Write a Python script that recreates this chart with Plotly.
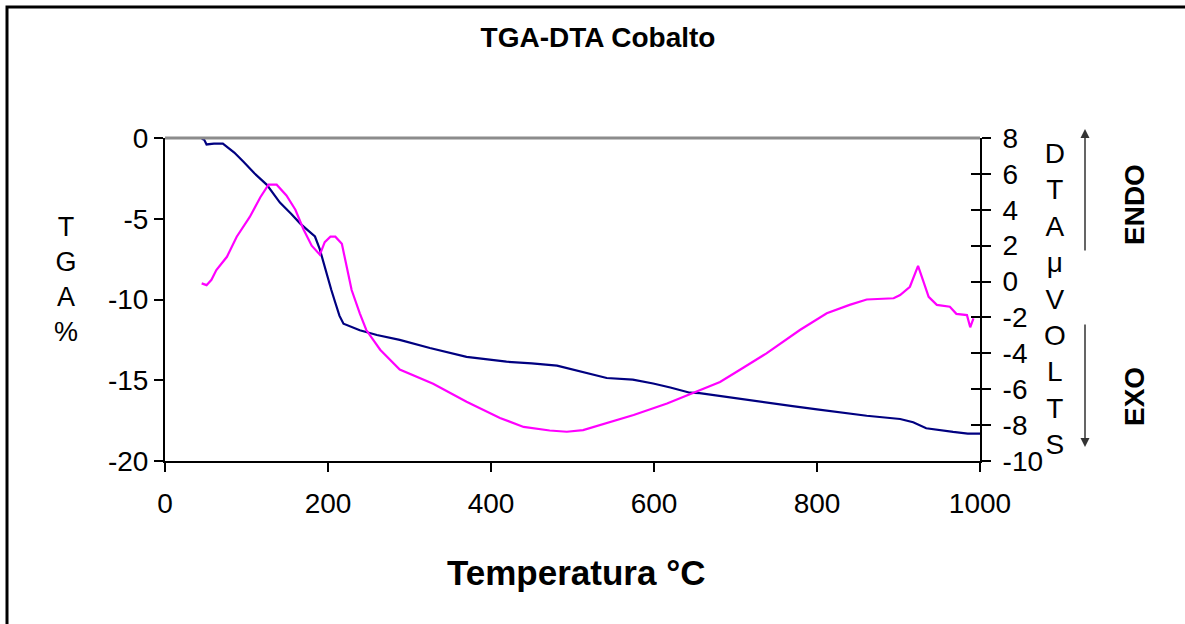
import plotly.graph_objects as go

# ---- data ----
tga_temp = [45, 48, 51, 60, 71, 85, 96, 110, 125, 141, 155, 166, 175, 184, 190, 198, 204, 209, 214,
            219, 228, 239, 260, 288, 325, 370, 419, 450, 481, 505, 542, 574, 599, 620, 644, 656,
            697, 738, 770, 800, 830, 861, 902, 918, 934, 950, 967, 985, 1000]
tga_pct = [-0.05, -0.1, -0.4, -0.35, -0.35, -0.9, -1.46, -2.2, -2.9, -4.0, -4.7, -5.3, -5.7, -6.1,
           -6.9, -8.4, -9.4, -10.2, -11.0, -11.5, -11.7, -11.9, -12.2, -12.5, -13.0, -13.55, -13.85,
           -13.95, -14.1, -14.4, -14.86, -14.96, -15.2, -15.45, -15.77, -15.8, -16.1, -16.4, -16.6,
           -16.8, -17.0, -17.2, -17.4, -17.6, -17.97, -18.1, -18.2, -18.3, -18.3]

dta_temp = [45, 51, 57, 63, 76, 88, 104, 117, 127, 137, 149, 160, 170, 180, 190, 196, 203, 209, 217,
            223, 229, 239, 247, 264, 288, 329, 370, 411, 440, 472, 493, 513, 534, 575, 616, 648,
            681, 706, 738, 779, 812, 840, 861, 894, 902, 914, 924, 930, 937, 947, 963, 971, 984,
            988, 992]
dta_uv = [-0.1, -0.2, 0.1, 0.64, 1.38, 2.5, 3.6, 4.7, 5.4, 5.4, 4.8, 4.0, 2.9, 2.0, 1.5, 2.2, 2.5,
          2.5, 2.1, 0.8, -0.47, -1.77, -2.7, -3.8, -4.9, -5.7, -6.7, -7.6, -8.1, -8.3, -8.37, -8.28,
          -8.0, -7.44, -6.8, -6.2, -5.6, -4.9, -4.0, -2.7, -1.77, -1.3, -1.0, -0.93, -0.75, -0.29,
          0.87, 0.08, -0.85, -1.3, -1.4, -1.8, -1.87, -2.55, -2.05]

x_ticks = [0, 200, 400, 600, 800, 1000]
tga_ticks = [0, -5, -10, -15, -20]
tga_labels = ["0", "-5", "-10", "-15", "-20"]
dta_ticks = [8, 6, 4, 2, 0, -2, -4, -6, -8, -10]
dta_labels = ["8", "6", "4", "2", "0", "-2", "-4", "-6", "-8", "-10"]

FONT = "Liberation Sans, Arial, sans-serif"
TICK = 28

fig = go.Figure()
fig.add_trace(go.Scatter(x=tga_temp, y=tga_pct, mode="lines", name="TGA",
                         line=dict(color="#000080", width=2.2), yaxis="y"))
fig.add_trace(go.Scatter(x=dta_temp, y=dta_uv, mode="lines", name="DTA",
                         line=dict(color="#FF00FF", width=2.2), yaxis="y2"))
# helper (empty) trace so the inner tick marks of the right axis get drawn
fig.add_trace(go.Scatter(x=[None], y=[None], yaxis="y3", showlegend=False, hoverinfo="skip"))

fig.update_layout(
    width=1185, height=624,
    margin=dict(l=165, r=205, t=138, b=163),
    paper_bgcolor="white", plot_bgcolor="white",
    showlegend=False,
    font=dict(family=FONT, color="black"),
    title=dict(text="<b>TGA-DTA Cobalto</b>", x=598 / 1185, xanchor="center",
               y=1 - 37 / 624, yanchor="middle", font=dict(size=28, family=FONT, color="black")),
    xaxis=dict(range=[0, 1000], tickvals=x_ticks, ticks="outside", ticklen=9, tickwidth=1.5,
               tickcolor="black", showline=True, linecolor="black", linewidth=2,
               showgrid=False, zeroline=False, tickfont=dict(size=TICK), ticklabelstandoff=7),
    yaxis=dict(range=[-20, 0], tickvals=tga_ticks, ticktext=tga_labels, ticks="outside",
               ticklen=9, tickwidth=1.5,
               tickcolor="black", showline=True, linecolor="black", linewidth=2,
               showgrid=False, zeroline=False, tickfont=dict(size=TICK)),
    yaxis2=dict(range=[-10, 8], tickvals=dta_ticks, ticktext=dta_labels, overlaying="y",
                side="right",
                ticks="outside", ticklen=9, tickwidth=1.5, tickcolor="black",
                showline=True, linecolor="black", linewidth=2,
                showgrid=False, zeroline=False, tickfont=dict(size=TICK), ticklabelstandoff=6),
    yaxis3=dict(range=[-10, 8], tickvals=dta_ticks, overlaying="y", side="right",
                ticks="inside", ticklen=9, tickwidth=1.5, tickcolor="black",
                showline=False, showgrid=False, zeroline=False, showticklabels=False),
)

# gray top border line of plot area
fig.add_shape(type="line", xref="paper", yref="paper", x0=0, x1=1, y0=1, y1=1,
              line=dict(color="#8c8c8c", width=3))
# outer chart frame
fig.add_shape(type="rect", xref="paper", yref="paper",
              x0=(7 - 165) / 815, x1=1.3, y0=-0.6, y1=(461 - 7) / 323,
              line=dict(color="black", width=3), fillcolor="rgba(0,0,0,0)")


def px(xp):
    return (xp - 165) / 815


def py(yp):
    return (461 - yp) / 323


anns = [
    dict(text="T<br>G<br>A<br>%", x=px(66), y=py(279), font=dict(size=27)),
    dict(text="D<br>T<br>A<br>μ<br>V<br>O<br>L<br>T<br>S", x=px(1055), y=py(299),
         font=dict(size=28)),
    dict(text="<b>ENDO</b>", x=px(1134), y=py(205), textangle=-90, font=dict(size=28)),
    dict(text="<b>EXO</b>", x=px(1134), y=py(397), textangle=-90, font=dict(size=28)),
    dict(text="<b>Temperatura °C</b>", x=px(576), y=py(572), font=dict(size=35)),
]
for a in anns:
    fig.add_annotation(xref="paper", yref="paper", showarrow=False,
                       xanchor="center", yanchor="middle", **a)

# ENDO / EXO arrows
fig.add_annotation(xref="paper", yref="paper", x=px(1085), y=py(129), ax=0, ay=123,
                   text="", showarrow=True, arrowhead=2, arrowsize=1.2, arrowwidth=1.5,
                   arrowcolor="#333333")
fig.add_annotation(xref="paper", yref="paper", x=px(1085), y=py(447), ax=0, ay=-124,
                   text="", showarrow=True, arrowhead=2, arrowsize=1.2, arrowwidth=1.5,
                   arrowcolor="#333333")

fig.write_html("out.html", config={"displayModeBar": False},
               post_script="document.body.style.margin='0';")
